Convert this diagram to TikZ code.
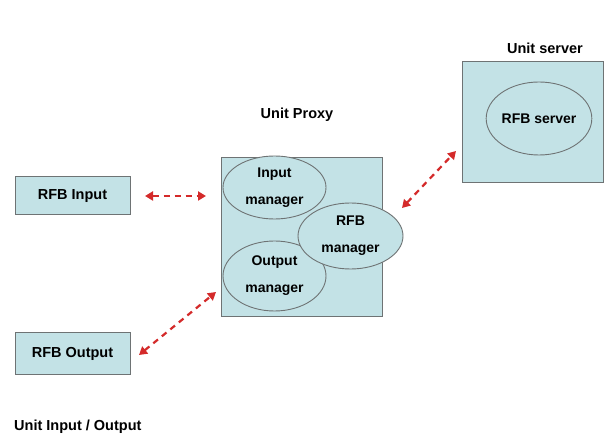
\documentclass[tikz,border=0pt]{standalone}
\usepackage{fontspec}
\setmainfont{Liberation Sans}
\usetikzlibrary{shapes.geometric,arrows.meta}
\definecolor{boxfill}{HTML}{C3E2E6}
\definecolor{boxline}{HTML}{6E7374}
\definecolor{arrred}{HTML}{D42A2A}
\tikzset{
  box/.style={draw=boxline, fill=boxfill, line width=1pt, rectangle, inner sep=0pt},
  oval/.style={draw=boxline, fill=boxfill, line width=0.9pt, ellipse, inner sep=0pt, align=center,
    font=\bfseries\fontsize{14}{27}\selectfont},
  lbl/.style={font=\bfseries\fontsize{14.5}{17}\selectfont, inner sep=0pt},
  link/.style={draw=arrred, line width=2.2pt, dash pattern=on 6pt off 5pt,
    {Triangle[length=8pt,width=9pt]}-{Triangle[length=8pt,width=9pt]}}
}
\begin{document}
\begin{tikzpicture}[x=1pt,y=-1pt]
\useasboundingbox (0,0) rectangle (608,443);
\fill[white] (0,0) rectangle (608,443);
% boxes
\node[box, minimum width=115pt, minimum height=38pt, lbl] (rfbin) at (72.5,196) {RFB Input};
\node[box, minimum width=115pt, minimum height=42pt, lbl] (rfbout) at (72.5,354) {RFB Output};
\node[box, minimum width=161pt, minimum height=159pt] (proxy) at (301.5,237.5) {};
\node[box, minimum width=141pt, minimum height=121pt] (server) at (532.5,122.5) {};
% ellipses
\node[oval, minimum width=103pt, minimum height=63pt] (inman) at (274.5,187.5) {Input\\manager};
\node[oval, minimum width=103pt, minimum height=70pt] (outman) at (274.5,276) {Output\\manager};
\node[oval, minimum width=105pt, minimum height=66pt] (rfbman) at (350.5,236) {RFB\\manager};
\node[oval, minimum width=88pt, minimum height=73pt] (rfbsrv) at (539,118.5) {RFB server};
% labels
\node[lbl] (lserver) at (545,48) {Unit server};
\node[lbl] (lproxy) at (297,115) {Unit Proxy};
\node[lbl, anchor=west] (lio) at (14,427) {Unit Input / Output};
% connectors
\coordinate (a1) at (145,196);
\coordinate (a2) at (206,196);
\coordinate (b1) at (139,355);
\coordinate (b2) at (216,292);
\coordinate (c1) at (402,208);
\coordinate (c2) at (456,151);
\draw[link] (a1) -- (a2);
\draw[link] (b1) -- (b2);
\draw[link] (c1) -- (c2);
\end{tikzpicture}
\end{document}
